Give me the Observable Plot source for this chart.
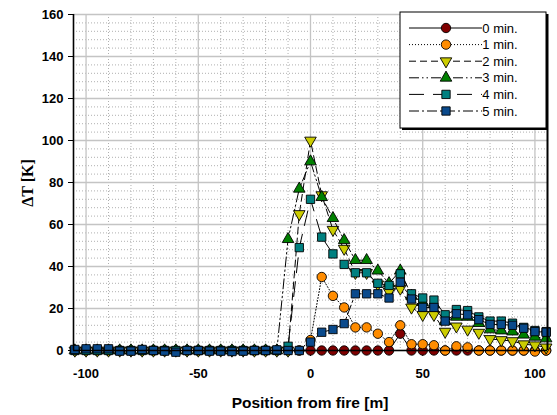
<!DOCTYPE html>
<html><head><meta charset="utf-8">
<script src="https://cdn.jsdelivr.net/npm/d3@7"></script>
<script src="https://cdn.jsdelivr.net/npm/@observablehq/plot@0.6"></script>
<style>body{margin:0;background:#fff}#chart{width:557px;height:415px}</style>
</head><body><div id="chart"></div>
<script>
const positions = [-105,-100,-95,-90,-85,-80,-75,-70,-65,-60,-55,-50,-45,-40,-35,-30,-25,-20,-15,-10,-5,0,5,10,15,20,25,30,35,40,45,50,55,60,65,70,75,80,85,90,95,100,105];
const seriesNames = ["0 min.","1 min.","2 min.","3 min.","4 min.","5 min."];
const min0 = [0,0,0,0,0,0,0,0,0,0,0,0,0,0,0,0,0,0,0,0,0, 0, 0,0,0,0,0,0,0, 8, 0,0,0,0,0,0,0,0,0,0,0,0,0];
const min1 = [0,0,0,0,0,0,0,0,0,0,0,0,0,0,0,0,0,0,0,0,0, 5, 35,26,20.5,11,11,8,4, 12, 3,3,2.5,0,2,1.5,0,0,0,0,0,-0.5,0];
const min2 = [0,0,0,0,0,0,0,0,0,0,0,0,0,0,0,0,0,0,0, 0, 65, 100, 74,57.5,48.5,37,37,31.5,28, 29.5, 20.5,17,17,9,11.5,10,8.5,5.5,5,4.5,3,2.5,1.5];
const min3 = [0,0,0,0,0,0,0,0,0,0,0,0,0,0,0,0,0,0, 0, 53, 77, 90, 73,63,52.5,43,43,38,32, 38, 26,23,22,14,16,16,13,10,9.5,9,7.5,6.5,5.7];
const min4 = [0,0,0,0,0,0,0,0,0,0,0,0,0,0,0,0,0,0,0, 2, 49, 72, 54,46,41,37,37,32,31, 36.5, 27,25,24,17,19.5,19,16,14,14,13,11,9.5,9];
const min5 = [0.5,0.8,0.8,0.8,-0.3,-0.3,0.5,0,-0.3,-0.8,0,0,-0.3,-0.3,-0.5,-0.3,0,0, 0.3, 0, 0, 4, 8.7,10,12.8,27,27,27,25, 32.5, 24.5,20.5,20.5,14,17.5,17,14.7,12.4,12.4,12,10.6,9,8.7];
const yTicks = [0,20,40,60,80,100,120,140,160];
const xTicks = [-100,-50,0,50,100];

const seriesValues = [min0,min1,min2,min3,min4,min5];
const colors = ["#800000","#ff8c00","#cccc00","#008000","#008080","#0a4a8c"];
const dashes = [null,"1,2","7,4","10,3,1.5,3,1.5,3","15,9","10,3,2,3"];
const triangleDown = {draw(context,size){const s3=Math.sqrt(3);const y=-Math.sqrt(size/(s3*3));context.moveTo(0,-y*2);context.lineTo(-s3*y,y);context.lineTo(s3*y,y);context.closePath();}};
const symbols = ["circle","circle",triangleDown,"triangle","square","square"];
const radii = [4.7,4.7,4.3,4.3,4.7,4.7];

const rows = [];
seriesValues.forEach((vals,k)=>vals.forEach((v,i)=>rows.push({x:positions[i],v,k})));

const xDom=[-105.6,105.6], yDom=[0,160];
const minorY = d3.range(0,161,4).filter(v=>v%20!==0);
const minorX = d3.range(-100,101,10).filter(v=>v%50!==0);
const fmt = d=>String(d);

const marks = [
  Plot.ruleY(minorY,{stroke:"#b0b0b0",strokeDasharray:"1,2",strokeWidth:1}),
  Plot.ruleX(minorX,{stroke:"#b0b0b0",strokeDasharray:"1,2",strokeWidth:1}),
  Plot.gridY(yTicks,{stroke:"#c4c4c4",strokeOpacity:1,strokeWidth:1.3}),
  Plot.gridX(xTicks,{stroke:"#c4c4c4",strokeOpacity:1,strokeWidth:1.3}),
  Plot.axisY(yTicks,{tickSize:5,tickPadding:5,label:null,stroke:"black",tickFormat:fmt}),
  Plot.axisX(xTicks,{tickSize:6,tickPadding:12,label:null,stroke:"black",tickFormat:fmt})
];
for(let k=0;k<6;k++){
  const d = rows.filter(r=>r.k===k);
  marks.push(Plot.line(d,{x:"x",y:"v",stroke:"black",strokeWidth:1,strokeDasharray:dashes[k]}));
  marks.push(Plot.dot(d,{x:"x",y:"v",symbol:symbols[k],r:radii[k],fill:colors[k],stroke:"black",strokeWidth:0.9}));
}
marks.push(Plot.ruleX([xDom[0]],{stroke:"black",strokeWidth:1.6}));
marks.push(Plot.ruleX([xDom[1]],{stroke:"black",strokeWidth:2}));
marks.push(Plot.ruleY([yDom[0]],{stroke:"black",strokeWidth:1.6}));

const chart = Plot.plot({
  width:557,height:415,
  marginLeft:73,marginRight:10,marginTop:14,marginBottom:65,
  style:{fontFamily:"'Liberation Sans',Arial,sans-serif",fontSize:"13px",fontWeight:"bold",background:"#fff",color:"black",overflow:"visible"},
  x:{domain:xDom},
  y:{domain:yDom},
  marks
});
document.getElementById("chart").appendChild(chart);

const svg = d3.select(chart);
svg.append("text").attr("x",310).attr("y",408).attr("text-anchor","middle")
  .style("font-family","'Liberation Sans',Arial,sans-serif").style("font-size","15.5px").style("font-weight","bold")
  .text("Position from fire [m]");
svg.append("text").attr("transform","translate(33,183) rotate(-90)").attr("text-anchor","middle")
  .style("font-family","'Liberation Serif','Times New Roman',serif").style("font-size","16px").style("font-weight","bold")
  .text("ΔT [K]");

// legend
const lg = svg.append("g");
lg.append("rect").attr("x",402).attr("y",14).attr("width",146).attr("height",116).attr("fill","#000");
lg.append("rect").attr("x",400).attr("y",12).attr("width",146).attr("height",116).attr("fill","#fff").attr("stroke","#000").attr("stroke-width",1);
seriesNames.forEach((name,k)=>{
  const y = 28 + 16.6*k;
  lg.append("line").attr("x1",409).attr("x2",482).attr("y1",y).attr("y2",y).attr("stroke","#000").attr("stroke-width",1).attr("stroke-dasharray",dashes[k]);
  const t = symbols[k]==="circle"?d3.symbolCircle:symbols[k]==="square"?d3.symbolSquare:symbols[k]==="triangle"?d3.symbolTriangle:triangleDown;
  lg.append("path").attr("transform",`translate(446,${y})`).attr("d",d3.symbol().type(t).size(Math.PI*radii[k]*radii[k])()).attr("fill",colors[k]).attr("stroke","#000").attr("stroke-width",0.9);
  lg.append("text").attr("x",500).attr("y",y+4.5).style("font-family","'Liberation Sans',Arial,sans-serif").style("font-size","13px").style("font-weight","normal").text(name);
});
</script></body></html>
